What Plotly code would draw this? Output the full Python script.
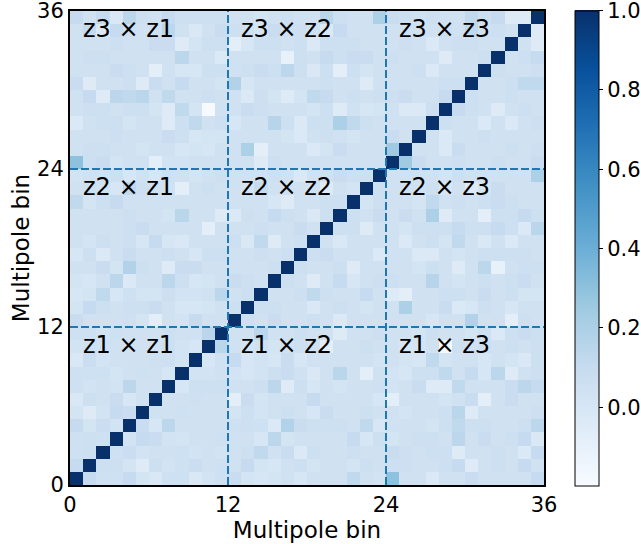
import numpy as np
import plotly.graph_objects as go

n_bins = 36
block_size = 12
tick_vals = [0, 12, 24, 36]
bin_labels = ["z1", "z2", "z3"]
cbar_ticks = [0.0, 0.2, 0.4, 0.6, 0.8, 1.0]
diag_value = 1.0

# Upper triangle of the symmetric correlation matrix: row y lists values for x = y+1 .. 35
upper_rows = [
    [0.10, 0.05, 0.05, 0.10, 0.02, -0.02, 0.05, 0.05, -0.02, 0.03, 0.05,
     0.08, 0.02, 0.00, 0.02, 0.04, 0.00, 0.04, 0.04, 0.04, 0.12, 0.04, 0.03,
     0.30, 0.04, 0.04, -0.03, 0.04, 0.04, 0.08, 0.04, 0.04, 0.04, 0.04, 0.10],
    [0.06, 0.06, 0.02, -0.05, 0.06, 0.03, 0.05, 0.07, 0.04, 0.05,
     0.04, 0.10, 0.02, 0.00, 0.04, 0.06, 0.02, 0.04, 0.04, 0.02, 0.06, 0.04,
     0.06, 0.06, 0.04, 0.04, 0.06, 0.10, -0.05, 0.04, 0.06, 0.04, 0.10, 0.04],
    [0.05, 0.07, 0.03, 0.04, 0.04, 0.05, 0.03, 0.04, 0.03,
     0.04, 0.06, 0.12, 0.04, 0.08, -0.03, 0.06, 0.04, 0.04, 0.06, 0.04, 0.04,
     0.08, 0.06, 0.04, 0.06, 0.06, -0.05, 0.04, 0.04, 0.06, 0.04, -0.03, 0.10],
    [0.03, 0.10, 0.08, 0.03, 0.02, 0.04, 0.04, 0.05,
     0.04, 0.04, 0.00, 0.14, 0.02, 0.04, 0.04, 0.04, 0.04, 0.10, 0.00, 0.06,
     0.02, 0.04, 0.06, 0.06, 0.04, 0.14, 0.04, 0.08, 0.04, 0.06, 0.10, -0.02],
    [0.08, 0.00, 0.14, 0.04, 0.04, 0.04, 0.04,
     0.05, 0.06, 0.05, -0.03, 0.18, 0.08, 0.06, 0.06, 0.06, 0.04, 0.12, 0.00,
     0.04, 0.04, 0.04, 0.02, 0.06, 0.12, 0.06, 0.06, 0.04, 0.04, 0.06, 0.14],
    [0.04, 0.04, 0.05, 0.04, 0.04, 0.04,
     0.02, 0.06, 0.02, 0.04, 0.06, 0.04, 0.00, 0.08, 0.04, 0.04, 0.06, 0.04,
     0.04, 0.02, 0.04, 0.04, 0.06, 0.15, -0.05, 0.04, 0.04, 0.04, 0.04, 0.06],
    [0.04, 0.04, 0.05, 0.04, 0.04,
     -0.08, 0.08, 0.02, 0.04, 0.04, 0.04, 0.10, 0.04, 0.04, 0.04, 0.04, 0.00,
     -0.08, 0.04, 0.04, 0.04, 0.02, 0.04, 0.08, -0.08, 0.04, 0.08, 0.04, 0.04],
    [0.00, 0.06, 0.06, 0.06,
     0.04, 0.04, 0.06, 0.14, -0.05, 0.06, 0.00, 0.04, 0.02, 0.04, 0.04, 0.05,
     0.03, 0.04, 0.08, -0.05, -0.05, 0.12, 0.04, 0.04, 0.04, 0.08, 0.14, 0.10],
    [0.03, 0.03, 0.04,
     0.03, 0.00, 0.03, 0.06, 0.08, 0.04, -0.02, 0.04, 0.15, 0.04, -0.08, 0.04,
     0.03, 0.00, 0.06, 0.06, 0.12, 0.04, 0.10, 0.00, 0.14, -0.05, 0.04, 0.06],
    [0.00, 0.04,
     0.10, 0.00, 0.03, 0.00, 0.08, 0.00, 0.04, 0.04, 0.04, 0.04, 0.04, 0.02,
     0.04, 0.02, 0.00, 0.12, 0.02, 0.04, 0.04, 0.00, 0.04, 0.02, -0.02, 0.06],
    [0.15,
     0.04, 0.02, 0.04, 0.02, 0.04, 0.06, 0.04, -0.08, 0.04, 0.04, 0.06, 0.04,
     0.04, 0.00, 0.02, 0.04, -0.19, 0.06, 0.04, 0.06, 0.04, 0.06, 0.04, 0.06],
    [0.04, 0.04, 0.14, 0.04, 0.04, 0.06, 0.04, 0.04, -0.05, 0.04, 0.04, 0.06,
     0.04, 0.04, 0.02, 0.06, 0.04, 0.04, 0.02, 0.06, -0.03, 0.06, 0.08, 0.06],
    [0.06, 0.04, 0.08, 0.04, 0.04, 0.06, 0.04, -0.03, 0.04, 0.04, 0.04,
     0.04, 0.04, 0.04, 0.00, 0.04, 0.04, 0.18, 0.04, 0.04, -0.08, 0.06, 0.04],
    [0.06, 0.06, 0.04, 0.04, -0.02, 0.04, 0.06, 0.04, 0.02, 0.04,
     0.04, 0.20, 0.04, 0.04, 0.08, -0.03, 0.00, 0.06, 0.04, 0.00, 0.04, 0.04],
    [0.04, 0.04, 0.06, 0.12, 0.06, 0.04, 0.04, 0.10, 0.04,
     -0.05, -0.08, 0.04, 0.04, 0.06, 0.06, 0.04, 0.08, 0.04, 0.06, 0.02, 0.02],
    [0.06, 0.04, -0.05, 0.04, 0.10, 0.00, 0.04, 0.06,
     0.06, 0.04, 0.04, 0.16, 0.04, 0.02, 0.04, 0.06, 0.04, 0.06, 0.08, 0.04],
    [0.06, 0.04, 0.04, 0.06, -0.05, 0.04, 0.04,
     0.04, 0.04, 0.02, 0.06, 0.04, -0.05, 0.04, 0.14, -0.10, 0.04, 0.06, 0.06],
    [0.06, 0.08, 0.04, 0.04, 0.04, -0.03,
     0.04, 0.04, -0.03, -0.03, 0.04, 0.02, 0.04, 0.06, 0.06, 0.06, 0.06, 0.04],
    [0.04, -0.02, 0.04, 0.04, 0.04,
     0.04, -0.03, 0.04, 0.06, 0.02, 0.12, 0.04, -0.02, 0.04, -0.03, 0.04, 0.04],
    [0.06, 0.06, -0.05, 0.04,
     0.04, 0.02, 0.06, 0.06, 0.06, 0.10, 0.06, 0.06, 0.10, 0.06, -0.03, 0.15],
    [0.06, 0.04, 0.08,
     0.04, 0.08, 0.04, 0.20, -0.05, 0.04, 0.04, -0.08, 0.06, 0.06, 0.10, 0.06],
    [0.02, 0.06,
     0.04, 0.04, 0.02, 0.12, 0.04, 0.06, 0.04, 0.06, 0.08, 0.06, 0.04, 0.04],
    [0.06,
     0.04, 0.04, 0.04, 0.06, 0.00, 0.04, -0.05, 0.02, 0.08, 0.04, 0.04, 0.04],
    [0.04, 0.04, 0.04, 0.04, 0.02, 0.06, 0.04, 0.04, 0.04, 0.04, 0.04, 0.20],
    [0.25, 0.08, 0.04, 0.04, 0.06, 0.04, 0.04, 0.06, 0.04, 0.04, 0.08],
    [0.04, 0.04, -0.03, 0.08, 0.04, 0.04, 0.04, 0.06, 0.04, 0.06],
    [0.04, -0.03, 0.04, 0.04, 0.06, 0.04, 0.04, 0.04, 0.04],
    [0.06, 0.04, 0.04, -0.03, 0.04, -0.03, 0.04, 0.06],
    [0.10, 0.06, 0.04, -0.05, 0.04, 0.06, 0.04],
    [0.06, 0.04, 0.04, 0.06, 0.04, 0.04],
    [0.04, 0.04, 0.06, 0.12, 0.12],
    [0.06, 0.04, 0.04, 0.06],
    [0.04, 0.06, 0.10],
    [0.04, -0.05],
    [-0.05],
    [],
]

# Build the symmetric matrix from the listed values
Z = np.eye(n_bins) * diag_value
for y, row in enumerate(upper_rows):
    for k, v in enumerate(row):
        x = y + 1 + k
        Z[y, x] = v
        Z[x, y] = v

blues = ['#f7fbff', '#deebf7', '#c6dbef', '#9ecae1', '#6baed6',
         '#4292c6', '#2171b5', '#08519c', '#08306b']
colorscale = [[i / (len(blues) - 1), c] for i, c in enumerate(blues)]

font_family = "DejaVu Sans"

fig = go.Figure()
fig.add_trace(go.Heatmap(
    z=Z, x0=0.5, dx=1, y0=0.5, dy=1,
    colorscale=colorscale, zmin=-0.197, zmax=1.0,
    colorbar=dict(
        x=1.0654, xanchor="left", xpad=0, ypad=0,
        y=0.5, yanchor="middle", len=1.002, lenmode="fraction",
        thickness=24, outlinecolor="black", outlinewidth=1,
        tickvals=cbar_ticks, ticktext=[f"{v:.1f}" for v in cbar_ticks],
        ticks="outside", ticklen=4, tickcolor="black",
        ticklabeloverflow="allow",
        tickfont=dict(size=21, color="black", family=font_family),
    ),
    hoverinfo="skip",
))

shapes = []
for b in (12, 24):
    shapes.append(dict(type="line", xref="x", yref="y", x0=b, x1=b, y0=0, y1=n_bins,
                       line=dict(color="#1f77b4", width=2, dash="8px,3px")))
    shapes.append(dict(type="line", xref="x", yref="y", x0=0, x1=n_bins, y0=b, y1=b,
                       line=dict(color="#1f77b4", width=2, dash="8px,3px")))
fig.update_layout(shapes=shapes)

for j, zr in enumerate(bin_labels):
    for i, zc in enumerate(bin_labels):
        fig.add_annotation(
            x=block_size * i + 0.85, y=block_size * j + 10.65, xref="x", yref="y",
            text=f"{zr} × {zc}", showarrow=False, xanchor="left", yanchor="middle",
            font=dict(size=24, color="black", family=font_family),
        )

axis_common = dict(
    range=[0, n_bins], tickvals=tick_vals, ticktext=[str(v) for v in tick_vals],
    showgrid=False, zeroline=False, ticks="",
    showline=True, mirror=True, linecolor="black", linewidth=2,
    ticklabeloverflow="allow",
    tickfont=dict(size=21, color="black", family=font_family),
)
fig.update_xaxes(**axis_common, title=dict(text="Multipole bin", standoff=0,
                 font=dict(size=23, color="black", family=font_family)))
fig.update_yaxes(**axis_common, title=dict(text="Multipole bin", standoff=1,
                 font=dict(size=23, color="black", family=font_family)))

fig.update_layout(
    width=641, height=544,
    margin=dict(l=70, r=97, t=11, b=59, autoexpand=False),
    plot_bgcolor="white", paper_bgcolor="white",
    font=dict(family=font_family, color="black"),
)

fig.write_html("out.html", config={"displayModeBar": False},
               post_script="document.body.style.margin='0';")
